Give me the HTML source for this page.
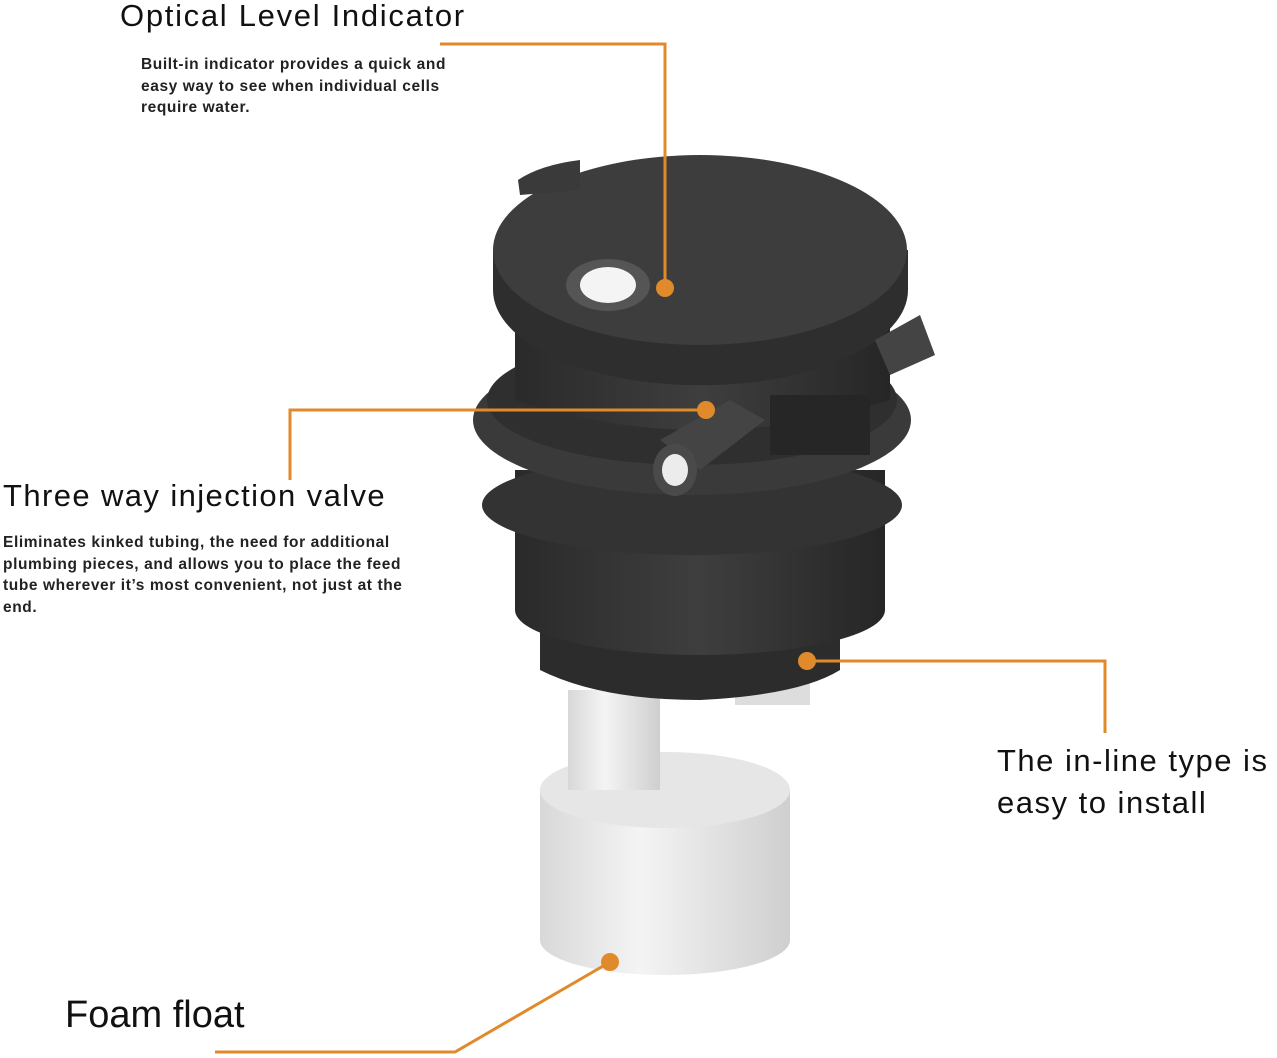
<!DOCTYPE html>
<html><head><meta charset="utf-8"><style>
html,body{margin:0;padding:0;background:#fff;}
body{width:1277px;height:1058px;position:relative;overflow:hidden;font-family:"Liberation Sans","DejaVu Sans",sans-serif;color:#111;}
.t{position:absolute;white-space:nowrap;}
.h{font-size:31px;letter-spacing:1.7px;}
.p{font-size:15.5px;font-weight:bold;line-height:21.5px;color:#222;letter-spacing:0.6px;}
</style></head><body>
<svg width="1277" height="1058" style="position:absolute;left:0;top:0">
<defs>
<linearGradient id="dk" x1="0" x2="1"><stop offset="0" stop-color="#2a2a2a"/><stop offset="0.5" stop-color="#3e3e3e"/><stop offset="1" stop-color="#262626"/></linearGradient>
<linearGradient id="wt" x1="0" x2="1"><stop offset="0" stop-color="#d8d8d8"/><stop offset="0.4" stop-color="#f4f4f4"/><stop offset="1" stop-color="#cfcfcf"/></linearGradient>
</defs>
<rect x="568" y="690" width="92" height="120" fill="url(#wt)"/>
<path d="M540 790 L540 940 A125 35 0 0 0 790 940 L790 790 Z" fill="url(#wt)"/>
<ellipse cx="665" cy="790" rx="125" ry="38" fill="#e6e6e6"/>
<rect x="568" y="690" width="92" height="100" fill="url(#wt)"/>
<rect x="735" y="680" width="75" height="25" fill="#ddd"/>
<path d="M540 600 L540 670 Q600 700 700 700 Q800 695 840 670 L840 600 Z" fill="#2c2c2c"/>
<path d="M515 470 L515 610 A185 45 0 0 0 885 610 L885 470 Z" fill="url(#dk)"/>
<ellipse cx="692" cy="505" rx="210" ry="50" fill="#333"/>
<ellipse cx="692" cy="420" rx="219" ry="75" fill="#3a3a3a"/>
<ellipse cx="692" cy="400" rx="205" ry="65" fill="#2f2f2f"/>
<path d="M515 290 L515 400 Q700 460 890 400 L890 290 Z" fill="url(#dk)"/>
<path d="M493 250 L493 290 A207 95 0 0 0 908 290 L908 250 Z" fill="#2e2e2e"/>
<ellipse cx="700" cy="250" rx="207" ry="95" fill="#3d3d3d"/>
<path d="M518 180 Q540 165 580 160 L580 190 L520 195 Z" fill="#3a3a3a"/>
<ellipse cx="608" cy="285" rx="42" ry="26" fill="#555"/>
<ellipse cx="608" cy="285" rx="28" ry="18" fill="#f4f4f4"/>
<rect x="770" y="395" width="100" height="60" fill="#262626"/>
<path d="M660 440 L730 400 L765 420 L700 470 Z" fill="#444"/>
<ellipse cx="675" cy="470" rx="22" ry="26" fill="#4a4a4a"/>
<ellipse cx="675" cy="470" rx="13" ry="16" fill="#ececec"/>
<path d="M875 340 L920 315 L935 355 L890 375 Z" fill="#444"/>
<g stroke="#e08a2c" stroke-width="3" fill="none">
<polyline points="440,44 665,44 665,288"/>
<polyline points="290,480 290,410 706,410"/>
<polyline points="807,661 1105,661 1105,733"/>
<polyline points="215,1052 455,1052 610,962"/>
</g>
<g fill="#e08a2c">
<circle cx="665" cy="288" r="9"/><circle cx="706" cy="410" r="9"/>
<circle cx="807" cy="661" r="9"/><circle cx="610" cy="962" r="9"/>
</g>
</svg>
<div class="t h" style="left:120px;top:-2px;">Optical Level Indicator</div>
<div class="t p" style="left:141px;top:54px;">Built-in indicator provides a quick and<br>easy way to see when individual cells<br>require water.</div>
<div class="t h" style="left:3px;top:478px;letter-spacing:1.4px;">Three way injection valve</div>
<div class="t p" style="left:3px;top:532px;">Eliminates kinked tubing, the need for additional<br>plumbing pieces, and allows you to place the feed<br>tube wherever it’s most convenient, not just at the<br>end.</div>
<div class="t h" style="left:997px;top:740px;line-height:42px;letter-spacing:1.5px;">The in-line type is<br>easy to install</div>
<div class="t" style="left:65px;top:994px;font-size:38px;">Foam float</div>
</body></html>
